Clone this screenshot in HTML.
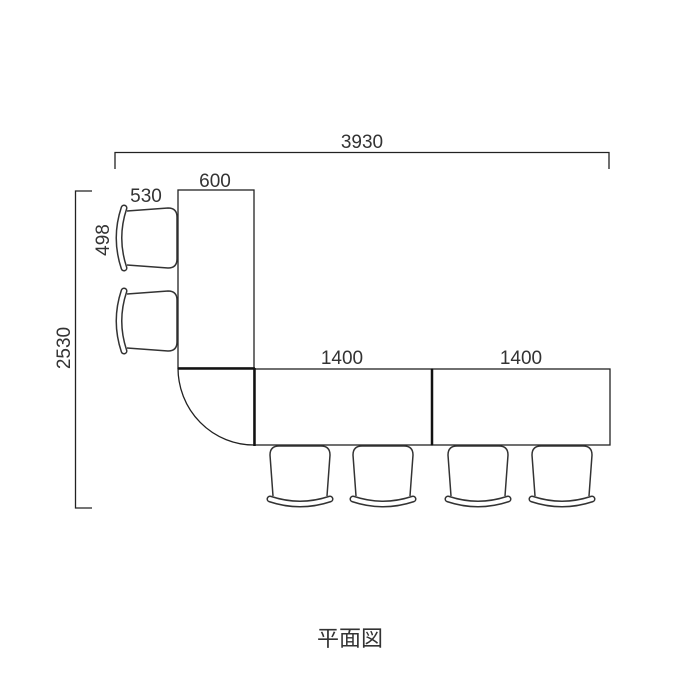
<!DOCTYPE html>
<html><head><meta charset="utf-8"><style>body{margin:0;background:#fff}svg{display:block}</style></head><body>
<svg width="700" height="700" viewBox="0 0 700 700" xmlns="http://www.w3.org/2000/svg" font-family="Liberation Sans, Noto Sans CJK JP, sans-serif">
<defs>
<g id="ch">
<path d="M-27,50 L-30,9 Q-30,0 -21,0 L21,0 Q30,0 30,9 L27,50" fill="#fff" stroke="#333" stroke-width="1.5"/>
<path d="M-30,53 Q0,63 30,53" fill="none" stroke="#333" stroke-width="7" stroke-linecap="round"/>
<path d="M-30,53 Q0,63 30,53" fill="none" stroke="#fff" stroke-width="4" stroke-linecap="round"/>
</g>
</defs>
<g stroke="#222" fill="none" stroke-width="1.3">
<path d="M115,169 V152.5 H609 V169"/>
<path d="M92,191 H75.5 V508 H92"/>
<rect x="178" y="190" width="76" height="178"/>
<rect x="254" y="369" width="178" height="76"/>
<rect x="432" y="369" width="178" height="76"/>
<path d="M178,368 A76,77 0 0 0 254,445"/>
</g>
<g stroke="#111" stroke-width="2.5"><line x1="178" y1="368.5" x2="255" y2="368.5"/><line x1="254.5" y1="368" x2="254.5" y2="446"/><line x1="432" y1="369" x2="432" y2="445"/></g>
<use href="#ch" transform="translate(300,446)"/>
<use href="#ch" transform="translate(383,446)"/>
<use href="#ch" transform="translate(478,446)"/>
<use href="#ch" transform="translate(562,446)"/>
<use href="#ch" transform="translate(177,238) rotate(90)"/>
<use href="#ch" transform="translate(177,321) rotate(90)"/>
<g fill="#333" font-size="19">
<text x="362" y="148" text-anchor="middle">3930</text>
<text x="215" y="187" text-anchor="middle">600</text>
<text x="146" y="202" text-anchor="middle">530</text>
<text x="342" y="364" text-anchor="middle">1400</text>
<text x="521" y="364" text-anchor="middle">1400</text>
<text transform="translate(109,240) rotate(-90)" text-anchor="middle">498</text>
<text transform="translate(70,348) rotate(-90)" text-anchor="middle">2530</text>
<text x="350" y="646" text-anchor="middle" font-size="22">平面図</text>
</g>
</svg>
</body></html>
